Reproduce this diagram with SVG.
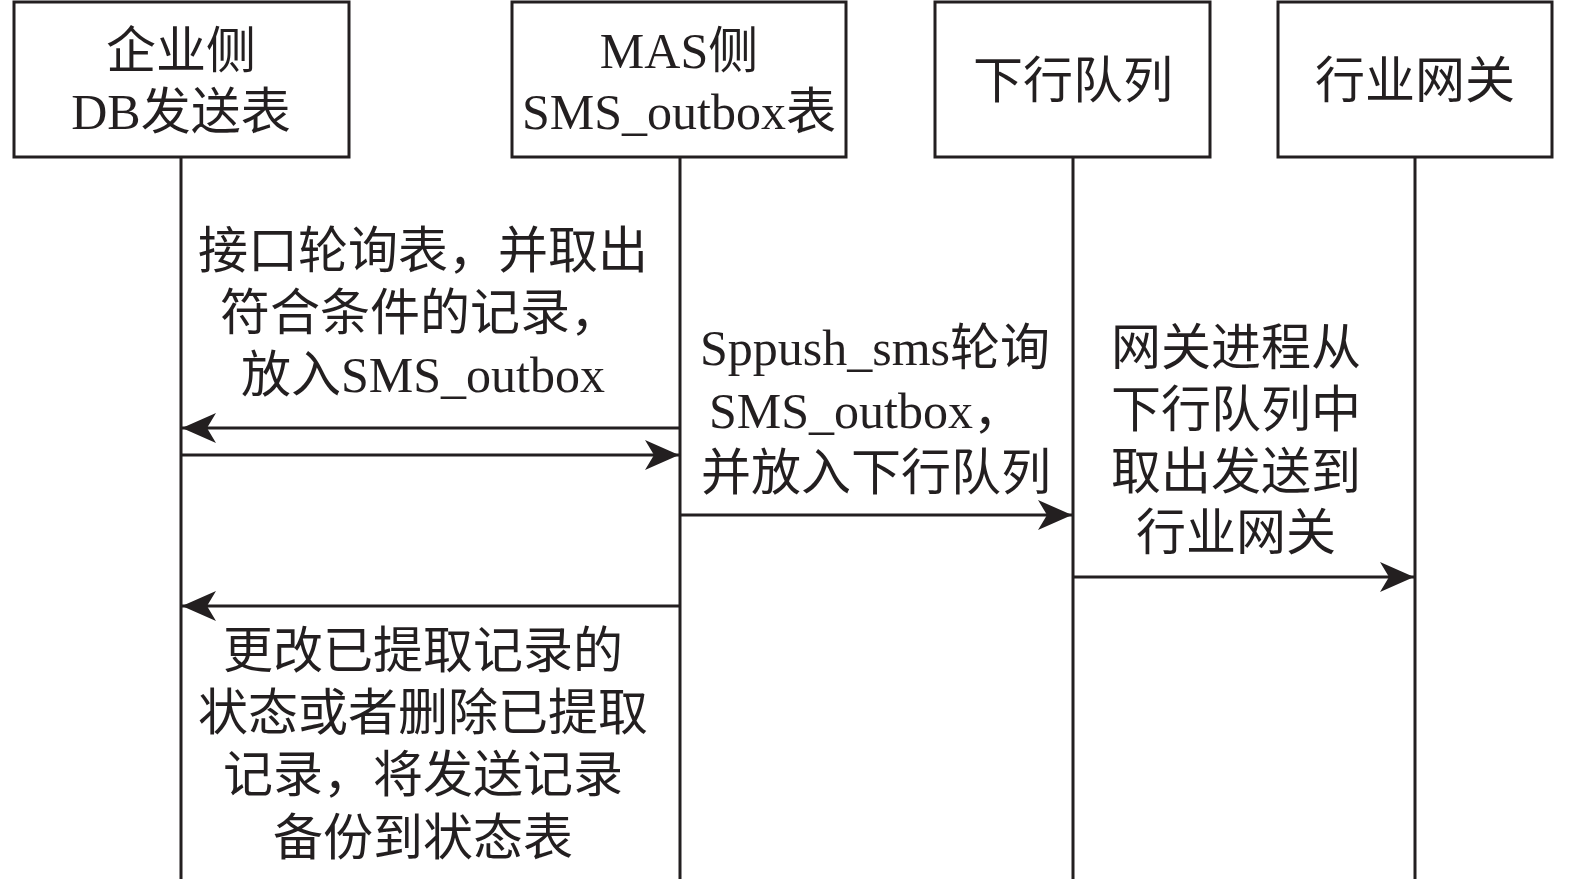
<svg xmlns="http://www.w3.org/2000/svg" width="1575" height="879" viewBox="0 0 1575 879">
<style>
.box{fill:#fff;stroke:#231f20;stroke-width:3}
.life{stroke:#231f20;stroke-width:3;fill:none}
.msg{stroke:#231f20;stroke-width:3;fill:none;marker-end:url(#ah)}
text{font-family:"Liberation Serif","Noto Sans CJK SC",serif;font-size:50px;fill:#231f20;text-anchor:middle}
</style>
<defs>
<marker id="ah" markerUnits="userSpaceOnUse" markerWidth="36" markerHeight="30" viewBox="0 0 36 30" refX="34" refY="15" orient="auto">
<path d="M0,0 L34,15 L0,30 L9,15 Z" fill="#231f20"/>
</marker>
</defs>
<rect width="1575" height="879" fill="#fff"/>
<g id="node-enterprise">
<rect class="box" x="14" y="2" width="335" height="155"/>
<text x="181" y="68">企业侧</text>
<text x="181" y="129">DB发送表</text>
</g>
<g id="node-mas">
<rect class="box" x="512" y="2" width="334" height="155"/>
<text x="679" y="68">MAS侧</text>
<text x="679" y="129">SMS_outbox表</text>
</g>
<g id="node-queue">
<rect class="box" x="935" y="2" width="275" height="155"/>
<text x="1073" y="98">下行队列</text>
</g>
<g id="node-gateway">
<rect class="box" x="1278" y="2" width="274" height="155"/>
<text x="1415" y="98">行业网关</text>
</g>
<g id="connectors">
<line class="life" x1="181" y1="157" x2="181" y2="879"/>
<line class="life" x1="680" y1="157" x2="680" y2="879"/>
<line class="life" x1="1073" y1="157" x2="1073" y2="879"/>
<line class="life" x1="1415" y1="157" x2="1415" y2="879"/>
<line class="msg" x1="680" y1="428" x2="182" y2="428"/>
<line class="msg" x1="181" y1="455" x2="679" y2="455"/>
<line class="msg" x1="680" y1="515" x2="1072" y2="515"/>
<line class="msg" x1="1073" y1="577" x2="1414" y2="577"/>
<line class="msg" x1="680" y1="606" x2="182" y2="606"/>
</g>
<g id="labels">
<text x="423" y="268">接口轮询表，并取出</text>
<text x="420" y="330">符合条件的记录，</text>
<text x="423" y="392">放入SMS_outbox</text>
<text x="875" y="365">Sppush_sms轮询</text>
<text x="866" y="428">SMS_outbox，</text>
<text x="876" y="490">并放入下行队列</text>
<text x="1236" y="365">网关进程从</text>
<text x="1236" y="427">下行队列中</text>
<text x="1236" y="489">取出发送到</text>
<text x="1236" y="550">行业网关</text>
<text x="423" y="668">更改已提取记录的</text>
<text x="423" y="730">状态或者删除已提取</text>
<text x="423" y="792">记录，将发送记录</text>
<text x="423" y="855">备份到状态表</text>
</g>
</svg>
